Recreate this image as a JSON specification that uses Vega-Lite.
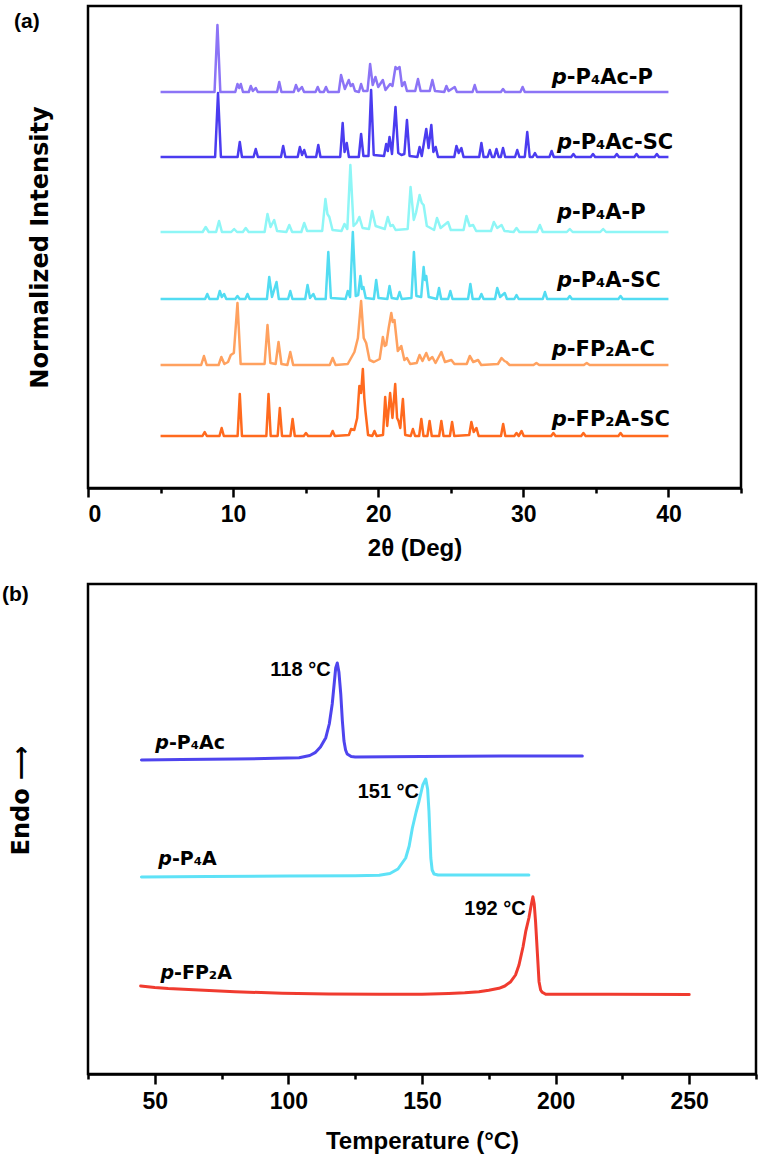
{
"$schema": "https://vega.github.io/schema/vega-lite/v6.json",
"background": "white",
"padding": {"left": 0, "top": 4, "right": 0, "bottom": 0},
"autosize": {"type": "pad"},
"bounds": "flush",
"spacing": 96,
"resolve": {"scale": {"x": "independent", "y": "independent", "color": "independent"}},
"config": {
  "view": {"stroke": "black", "strokeWidth": 2.5},
  "axis": {"grid": false, "domainColor": "black", "tickColor": "black", "labelColor": "black", "titleColor": "black"}
},
"vconcat": [
{
  "width": 653, "height": 482,
  "title": {"text": "(a)", "anchor": "start", "frame": "group", "orient": "top", "offset": 0, "dx": -74, "dy": 26, "baseline": "top", "fontSize": 21, "fontWeight": "bold", "font": "Liberation Sans", "color": "black"},
  "layer": [
    {
      "data": {"values": [
{"s":"A","x":5,"y":396},{"s":"A","x":8.72,"y":396},{"s":"A","x":8.92,"y":463},{"s":"A","x":9.12,"y":396},{"s":"A","x":10.15,"y":396},{"s":"A","x":10.3,"y":404},{"s":"A","x":10.42,"y":400},{"s":"A","x":10.53,"y":404},{"s":"A","x":10.68,"y":396},{"s":"A","x":11.08,"y":396},{"s":"A","x":11.22,"y":402},{"s":"A","x":11.36,"y":397},{"s":"A","x":11.56,"y":400},{"s":"A","x":11.7,"y":396},{"s":"A","x":13.03,"y":396},{"s":"A","x":13.18,"y":406},{"s":"A","x":13.33,"y":396},{"s":"A","x":14.18,"y":396},{"s":"A","x":14.33,"y":403},{"s":"A","x":14.5,"y":397},{"s":"A","x":14.74,"y":401},{"s":"A","x":14.89,"y":396},{"s":"A","x":15.68,"y":396},{"s":"A","x":15.83,"y":401},{"s":"A","x":15.98,"y":396},{"s":"A","x":16.25,"y":396},{"s":"A","x":16.4,"y":401},{"s":"A","x":16.55,"y":396},{"s":"A","x":17.28,"y":396},{"s":"A","x":17.44,"y":413},{"s":"A","x":17.7,"y":399},{"s":"A","x":17.97,"y":408},{"s":"A","x":18.1,"y":402},{"s":"A","x":18.25,"y":404},{"s":"A","x":18.4,"y":397},{"s":"A","x":18.67,"y":396},{"s":"A","x":18.82,"y":404},{"s":"A","x":18.97,"y":397},{"s":"A","x":19.26,"y":397},{"s":"A","x":19.44,"y":424},{"s":"A","x":19.62,"y":403},{"s":"A","x":19.81,"y":411},{"s":"A","x":20.0,"y":401},{"s":"A","x":20.32,"y":408},{"s":"A","x":20.5,"y":398},{"s":"A","x":20.82,"y":404},{"s":"A","x":20.98,"y":402},{"s":"A","x":21.19,"y":421},{"s":"A","x":21.3,"y":419},{"s":"A","x":21.47,"y":421},{"s":"A","x":21.64,"y":402},{"s":"A","x":21.82,"y":406},{"s":"A","x":21.98,"y":397},{"s":"A","x":22.55,"y":397},{"s":"A","x":22.74,"y":409},{"s":"A","x":22.92,"y":397},{"s":"A","x":23.55,"y":397},{"s":"A","x":23.73,"y":408},{"s":"A","x":23.91,"y":397},{"s":"A","x":24.55,"y":396},{"s":"A","x":24.7,"y":402},{"s":"A","x":24.85,"y":397},{"s":"A","x":25.27,"y":401},{"s":"A","x":25.42,"y":396},{"s":"A","x":26.5,"y":396},{"s":"A","x":26.65,"y":403},{"s":"A","x":26.8,"y":396},{"s":"A","x":28.45,"y":396},{"s":"A","x":28.6,"y":399},{"s":"A","x":28.75,"y":396},{"s":"A","x":29.8,"y":396},{"s":"A","x":29.95,"y":401},{"s":"A","x":30.1,"y":396},{"s":"A","x":40,"y":396},
{"s":"B","x":5,"y":331},{"s":"B","x":8.76,"y":331},{"s":"B","x":8.96,"y":395},{"s":"B","x":9.16,"y":331},{"s":"B","x":10.31,"y":331},{"s":"B","x":10.46,"y":346},{"s":"B","x":10.61,"y":331},{"s":"B","x":11.41,"y":331},{"s":"B","x":11.56,"y":339},{"s":"B","x":11.71,"y":331},{"s":"B","x":13.3,"y":331},{"s":"B","x":13.45,"y":342},{"s":"B","x":13.6,"y":331},{"s":"B","x":14.45,"y":331},{"s":"B","x":14.6,"y":341},{"s":"B","x":14.75,"y":333},{"s":"B","x":14.9,"y":338},{"s":"B","x":15.05,"y":331},{"s":"B","x":15.72,"y":331},{"s":"B","x":15.87,"y":343},{"s":"B","x":16.02,"y":331},{"s":"B","x":17.38,"y":331},{"s":"B","x":17.55,"y":365},{"s":"B","x":17.68,"y":336},{"s":"B","x":17.83,"y":345},{"s":"B","x":17.98,"y":331},{"s":"B","x":18.66,"y":331},{"s":"B","x":18.82,"y":354},{"s":"B","x":18.98,"y":332},{"s":"B","x":19.33,"y":332},{"s":"B","x":19.51,"y":398},{"s":"B","x":19.69,"y":333},{"s":"B","x":20.4,"y":332},{"s":"B","x":20.55,"y":344},{"s":"B","x":20.66,"y":337},{"s":"B","x":20.78,"y":351},{"s":"B","x":20.95,"y":334},{"s":"B","x":21.19,"y":381},{"s":"B","x":21.38,"y":335},{"s":"B","x":21.6,"y":333},{"s":"B","x":21.8,"y":334},{"s":"B","x":21.98,"y":368},{"s":"B","x":22.16,"y":332},{"s":"B","x":22.7,"y":331},{"s":"B","x":22.85,"y":341},{"s":"B","x":23.0,"y":332},{"s":"B","x":23.31,"y":359},{"s":"B","x":23.47,"y":340},{"s":"B","x":23.66,"y":363},{"s":"B","x":23.8,"y":336},{"s":"B","x":23.96,"y":341},{"s":"B","x":24.12,"y":331},{"s":"B","x":25.24,"y":331},{"s":"B","x":25.39,"y":342},{"s":"B","x":25.55,"y":335},{"s":"B","x":25.73,"y":340},{"s":"B","x":25.88,"y":331},{"s":"B","x":26.96,"y":331},{"s":"B","x":27.11,"y":345},{"s":"B","x":27.26,"y":331},{"s":"B","x":27.54,"y":331},{"s":"B","x":27.69,"y":338},{"s":"B","x":27.84,"y":331},{"s":"B","x":28.0,"y":331},{"s":"B","x":28.15,"y":339},{"s":"B","x":28.3,"y":331},{"s":"B","x":28.45,"y":331},{"s":"B","x":28.6,"y":340},{"s":"B","x":28.75,"y":331},{"s":"B","x":29.43,"y":331},{"s":"B","x":29.58,"y":338},{"s":"B","x":29.73,"y":331},{"s":"B","x":30.1,"y":331},{"s":"B","x":30.27,"y":356},{"s":"B","x":30.44,"y":331},{"s":"B","x":30.65,"y":331},{"s":"B","x":30.8,"y":335},{"s":"B","x":30.95,"y":331},{"s":"B","x":31.8,"y":331},{"s":"B","x":31.95,"y":337},{"s":"B","x":32.1,"y":331},{"s":"B","x":33.3,"y":331},{"s":"B","x":33.45,"y":334},{"s":"B","x":33.6,"y":331},{"s":"B","x":34.65,"y":331},{"s":"B","x":34.8,"y":334},{"s":"B","x":34.95,"y":331},{"s":"B","x":36.29,"y":331},{"s":"B","x":36.44,"y":334},{"s":"B","x":36.59,"y":331},{"s":"B","x":37.65,"y":331},{"s":"B","x":37.8,"y":334},{"s":"B","x":37.95,"y":331},{"s":"B","x":39.05,"y":331},{"s":"B","x":39.2,"y":334},{"s":"B","x":39.35,"y":331},{"s":"B","x":40,"y":331},
{"s":"C","x":5,"y":256},{"s":"C","x":7.9,"y":256},{"s":"C","x":8.11,"y":261},{"s":"C","x":8.32,"y":256},{"s":"C","x":8.83,"y":256},{"s":"C","x":9.03,"y":267},{"s":"C","x":9.23,"y":256},{"s":"C","x":9.87,"y":256},{"s":"C","x":10.07,"y":259},{"s":"C","x":10.27,"y":256},{"s":"C","x":10.67,"y":256},{"s":"C","x":10.87,"y":260},{"s":"C","x":11.07,"y":256},{"s":"C","x":12.17,"y":256},{"s":"C","x":12.37,"y":274},{"s":"C","x":12.58,"y":261},{"s":"C","x":12.83,"y":268},{"s":"C","x":13.03,"y":257},{"s":"C","x":13.67,"y":256},{"s":"C","x":13.87,"y":263},{"s":"C","x":14.07,"y":256},{"s":"C","x":14.7,"y":256},{"s":"C","x":14.9,"y":265},{"s":"C","x":15.1,"y":257},{"s":"C","x":16.14,"y":257},{"s":"C","x":16.36,"y":289},{"s":"C","x":16.5,"y":274},{"s":"C","x":16.63,"y":271},{"s":"C","x":16.85,"y":258},{"s":"C","x":17.47,"y":257},{"s":"C","x":17.67,"y":264},{"s":"C","x":17.87,"y":259},{"s":"C","x":18.08,"y":323},{"s":"C","x":18.3,"y":262},{"s":"C","x":18.5,"y":265},{"s":"C","x":18.7,"y":271},{"s":"C","x":18.92,"y":260},{"s":"C","x":19.36,"y":259},{"s":"C","x":19.58,"y":277},{"s":"C","x":19.82,"y":262},{"s":"C","x":20.45,"y":259},{"s":"C","x":20.66,"y":271},{"s":"C","x":20.84,"y":262},{"s":"C","x":21.01,"y":263},{"s":"C","x":21.2,"y":258},{"s":"C","x":22.03,"y":259},{"s":"C","x":22.23,"y":301},{"s":"C","x":22.45,"y":268},{"s":"C","x":22.6,"y":275},{"s":"C","x":22.85,"y":293},{"s":"C","x":23.0,"y":285},{"s":"C","x":23.13,"y":283},{"s":"C","x":23.35,"y":262},{"s":"C","x":23.85,"y":258},{"s":"C","x":24.05,"y":270},{"s":"C","x":24.3,"y":260},{"s":"C","x":24.81,"y":266},{"s":"C","x":25.0,"y":258},{"s":"C","x":25.88,"y":258},{"s":"C","x":26.08,"y":272},{"s":"C","x":26.3,"y":262},{"s":"C","x":26.54,"y":263},{"s":"C","x":26.75,"y":257},{"s":"C","x":27.77,"y":257},{"s":"C","x":27.97,"y":266},{"s":"C","x":28.2,"y":260},{"s":"C","x":28.5,"y":263},{"s":"C","x":28.7,"y":257},{"s":"C","x":29.33,"y":256},{"s":"C","x":29.53,"y":260},{"s":"C","x":29.73,"y":256},{"s":"C","x":30.94,"y":256},{"s":"C","x":31.14,"y":263},{"s":"C","x":31.34,"y":256},{"s":"C","x":33.0,"y":256},{"s":"C","x":33.2,"y":259},{"s":"C","x":33.4,"y":256},{"s":"C","x":35.3,"y":256},{"s":"C","x":35.5,"y":259},{"s":"C","x":35.7,"y":256},{"s":"C","x":40,"y":256},
{"s":"D","x":5,"y":189},{"s":"D","x":8.07,"y":189},{"s":"D","x":8.22,"y":194},{"s":"D","x":8.37,"y":189},{"s":"D","x":8.93,"y":189},{"s":"D","x":9.08,"y":197},{"s":"D","x":9.22,"y":191},{"s":"D","x":9.38,"y":194},{"s":"D","x":9.53,"y":189},{"s":"D","x":10.15,"y":189},{"s":"D","x":10.3,"y":192},{"s":"D","x":10.45,"y":189},{"s":"D","x":10.84,"y":189},{"s":"D","x":10.99,"y":194},{"s":"D","x":11.14,"y":189},{"s":"D","x":12.33,"y":189},{"s":"D","x":12.49,"y":211},{"s":"D","x":12.68,"y":191},{"s":"D","x":12.99,"y":206},{"s":"D","x":13.15,"y":189},{"s":"D","x":13.79,"y":189},{"s":"D","x":13.94,"y":197},{"s":"D","x":14.09,"y":189},{"s":"D","x":14.97,"y":189},{"s":"D","x":15.13,"y":203},{"s":"D","x":15.3,"y":190},{"s":"D","x":15.53,"y":194},{"s":"D","x":15.68,"y":189},{"s":"D","x":16.38,"y":189},{"s":"D","x":16.56,"y":236},{"s":"D","x":16.74,"y":190},{"s":"D","x":17.75,"y":189},{"s":"D","x":17.9,"y":197},{"s":"D","x":18.06,"y":191},{"s":"D","x":18.25,"y":256},{"s":"D","x":18.45,"y":192},{"s":"D","x":18.62,"y":193},{"s":"D","x":18.77,"y":212},{"s":"D","x":18.88,"y":199},{"s":"D","x":18.98,"y":201},{"s":"D","x":19.14,"y":190},{"s":"D","x":19.7,"y":189},{"s":"D","x":19.86,"y":208},{"s":"D","x":20.02,"y":190},{"s":"D","x":20.63,"y":189},{"s":"D","x":20.78,"y":202},{"s":"D","x":20.93,"y":190},{"s":"D","x":21.32,"y":189},{"s":"D","x":21.47,"y":196},{"s":"D","x":21.62,"y":189},{"s":"D","x":22.29,"y":190},{"s":"D","x":22.46,"y":236},{"s":"D","x":22.63,"y":192},{"s":"D","x":22.96,"y":191},{"s":"D","x":23.13,"y":221},{"s":"D","x":23.22,"y":208},{"s":"D","x":23.31,"y":212},{"s":"D","x":23.48,"y":191},{"s":"D","x":24.04,"y":189},{"s":"D","x":24.19,"y":200},{"s":"D","x":24.34,"y":189},{"s":"D","x":24.82,"y":189},{"s":"D","x":24.97,"y":197},{"s":"D","x":25.12,"y":189},{"s":"D","x":26.19,"y":189},{"s":"D","x":26.35,"y":204},{"s":"D","x":26.51,"y":189},{"s":"D","x":26.96,"y":189},{"s":"D","x":27.11,"y":194},{"s":"D","x":27.26,"y":189},{"s":"D","x":28.05,"y":189},{"s":"D","x":28.2,"y":200},{"s":"D","x":28.4,"y":191},{"s":"D","x":28.72,"y":195},{"s":"D","x":28.87,"y":189},{"s":"D","x":29.38,"y":189},{"s":"D","x":29.53,"y":193},{"s":"D","x":29.68,"y":189},{"s":"D","x":31.34,"y":189},{"s":"D","x":31.49,"y":196},{"s":"D","x":31.64,"y":189},{"s":"D","x":33.05,"y":189},{"s":"D","x":33.2,"y":192},{"s":"D","x":33.35,"y":189},{"s":"D","x":36.55,"y":189},{"s":"D","x":36.7,"y":192},{"s":"D","x":36.85,"y":189},{"s":"D","x":40,"y":189},
{"s":"E","x":5,"y":123},{"s":"E","x":7.8,"y":123},{"s":"E","x":7.99,"y":132},{"s":"E","x":8.18,"y":123},{"s":"E","x":9.0,"y":123},{"s":"E","x":9.19,"y":131},{"s":"E","x":9.4,"y":124},{"s":"E","x":9.65,"y":126},{"s":"E","x":9.84,"y":133},{"s":"E","x":10.05,"y":135},{"s":"E","x":10.3,"y":185},{"s":"E","x":10.52,"y":124},{"s":"E","x":12.17,"y":124},{"s":"E","x":12.37,"y":163},{"s":"E","x":12.57,"y":125},{"s":"E","x":12.93,"y":124},{"s":"E","x":13.13,"y":146},{"s":"E","x":13.33,"y":124},{"s":"E","x":13.74,"y":123},{"s":"E","x":13.94,"y":136},{"s":"E","x":14.14,"y":123},{"s":"E","x":16.66,"y":123},{"s":"E","x":16.86,"y":130},{"s":"E","x":17.06,"y":123},{"s":"E","x":17.9,"y":124},{"s":"E","x":18.36,"y":136},{"s":"E","x":18.6,"y":150},{"s":"E","x":18.82,"y":187},{"s":"E","x":19.0,"y":150},{"s":"E","x":19.17,"y":145},{"s":"E","x":19.4,"y":128},{"s":"E","x":19.7,"y":126},{"s":"E","x":20.1,"y":129},{"s":"E","x":20.32,"y":151},{"s":"E","x":20.45,"y":142},{"s":"E","x":20.55,"y":143},{"s":"E","x":20.72,"y":160},{"s":"E","x":20.9,"y":175},{"s":"E","x":21.0,"y":166},{"s":"E","x":21.12,"y":168},{"s":"E","x":21.35,"y":137},{"s":"E","x":21.59,"y":142},{"s":"E","x":21.8,"y":128},{"s":"E","x":21.98,"y":130},{"s":"E","x":22.2,"y":124},{"s":"E","x":22.65,"y":125},{"s":"E","x":22.85,"y":133},{"s":"E","x":23.05,"y":127},{"s":"E","x":23.31,"y":135},{"s":"E","x":23.5,"y":128},{"s":"E","x":23.73,"y":131},{"s":"E","x":23.95,"y":125},{"s":"E","x":24.35,"y":136},{"s":"E","x":24.6,"y":126},{"s":"E","x":25.04,"y":128},{"s":"E","x":25.25,"y":124},{"s":"E","x":26.1,"y":124},{"s":"E","x":26.31,"y":132},{"s":"E","x":26.55,"y":126},{"s":"E","x":26.88,"y":128},{"s":"E","x":27.1,"y":123},{"s":"E","x":28.25,"y":124},{"s":"E","x":28.5,"y":130},{"s":"E","x":28.7,"y":127},{"s":"E","x":28.84,"y":126},{"s":"E","x":29.05,"y":123},{"s":"E","x":30.7,"y":123},{"s":"E","x":30.9,"y":125},{"s":"E","x":31.1,"y":123},{"s":"E","x":34.17,"y":123},{"s":"E","x":34.37,"y":125},{"s":"E","x":34.57,"y":123},{"s":"E","x":40,"y":123},
{"s":"F","x":5,"y":52},{"s":"F","x":7.89,"y":52},{"s":"F","x":8.04,"y":56},{"s":"F","x":8.19,"y":52},{"s":"F","x":9.06,"y":52},{"s":"F","x":9.21,"y":60},{"s":"F","x":9.36,"y":52},{"s":"F","x":10.31,"y":52},{"s":"F","x":10.46,"y":94},{"s":"F","x":10.61,"y":52},{"s":"F","x":12.29,"y":52},{"s":"F","x":12.44,"y":94},{"s":"F","x":12.59,"y":52},{"s":"F","x":13.07,"y":52},{"s":"F","x":13.22,"y":80},{"s":"F","x":13.37,"y":52},{"s":"F","x":13.95,"y":52},{"s":"F","x":14.1,"y":69},{"s":"F","x":14.25,"y":52},{"s":"F","x":14.87,"y":52},{"s":"F","x":15.02,"y":55},{"s":"F","x":15.17,"y":52},{"s":"F","x":16.71,"y":52},{"s":"F","x":16.86,"y":57},{"s":"F","x":17.01,"y":52},{"s":"F","x":17.98,"y":53},{"s":"F","x":18.13,"y":59},{"s":"F","x":18.35,"y":58},{"s":"F","x":18.55,"y":70},{"s":"F","x":18.7,"y":102},{"s":"F","x":18.82,"y":95},{"s":"F","x":18.94,"y":119},{"s":"F","x":19.04,"y":90},{"s":"F","x":19.12,"y":77},{"s":"F","x":19.3,"y":53},{"s":"F","x":19.59,"y":52},{"s":"F","x":19.74,"y":57},{"s":"F","x":19.89,"y":52},{"s":"F","x":20.33,"y":53},{"s":"F","x":20.48,"y":91},{"s":"F","x":20.62,"y":62},{"s":"F","x":20.82,"y":95},{"s":"F","x":20.98,"y":70},{"s":"F","x":21.17,"y":104},{"s":"F","x":21.3,"y":70},{"s":"F","x":21.4,"y":67},{"s":"F","x":21.52,"y":60},{"s":"F","x":21.7,"y":89},{"s":"F","x":21.86,"y":53},{"s":"F","x":22.24,"y":52},{"s":"F","x":22.39,"y":59},{"s":"F","x":22.54,"y":52},{"s":"F","x":22.82,"y":52},{"s":"F","x":22.97,"y":69},{"s":"F","x":23.12,"y":52},{"s":"F","x":23.39,"y":52},{"s":"F","x":23.54,"y":67},{"s":"F","x":23.69,"y":52},{"s":"F","x":24.2,"y":52},{"s":"F","x":24.35,"y":67},{"s":"F","x":24.5,"y":52},{"s":"F","x":24.94,"y":52},{"s":"F","x":25.09,"y":66},{"s":"F","x":25.24,"y":52},{"s":"F","x":26.27,"y":53},{"s":"F","x":26.42,"y":66},{"s":"F","x":26.58,"y":56},{"s":"F","x":26.77,"y":60},{"s":"F","x":26.92,"y":52},{"s":"F","x":28.46,"y":52},{"s":"F","x":28.61,"y":64},{"s":"F","x":28.76,"y":52},{"s":"F","x":29.38,"y":52},{"s":"F","x":29.53,"y":55},{"s":"F","x":29.68,"y":52},{"s":"F","x":29.88,"y":57},{"s":"F","x":30.03,"y":52},{"s":"F","x":31.92,"y":52},{"s":"F","x":32.07,"y":55},{"s":"F","x":32.22,"y":52},{"s":"F","x":33.99,"y":52},{"s":"F","x":34.14,"y":55},{"s":"F","x":34.29,"y":52},{"s":"F","x":36.55,"y":52},{"s":"F","x":36.7,"y":55},{"s":"F","x":36.85,"y":52},{"s":"F","x":40,"y":52}
      ]},
      "mark": {"type": "line", "strokeWidth": 2.5, "strokeJoin": "round"},
      "encoding": {
        "x": {"field": "x", "type": "quantitative", "scale": {"domain": [0, 45], "nice": false, "zero": false},
          "axis": {"values": [0,5,10,15,20,25,30,35,40,45], "labelExpr": "datum.value % 10 === 0 ? datum.label : ''",
            "tickSize": {"condition": {"test": "datum.value % 10 === 0", "value": 9}, "value": 5},
            "tickWidth": 2.5, "domainWidth": 2.5, "labelFont": "Liberation Sans", "labelFontSize": 23, "labelFontWeight": "bold", "labelPadding": 6,
            "title": "2θ (Deg)", "titleFont": "Liberation Sans", "titleFontSize": 24, "titleFontWeight": "bold", "titlePadding": 10}},
        "y": {"field": "y", "type": "quantitative", "scale": {"domain": [0, 482], "nice": false, "zero": false},
          "axis": {"ticks": false, "labels": false, "domain": false, "title": "Normalized Intensity", "titleFont": "DejaVu Sans", "titleFontSize": 24, "titleFontWeight": "bold", "titlePadding": 36}},
        "color": {"field": "s", "type": "nominal", "legend": null,
          "scale": {"domain": ["A","B","C","D","E","F"], "range": ["#8c74f6","#4b3cf0","#8ef6f6","#52dcf2","#ffa15f","#ff6a1e"]}}
      }
    },
    {
      "data": {"values": [
        {"x": 33.0, "y": 404, "p": "p", "t": "-P₄Ac-P"},
        {"x": 33.35, "y": 339, "p": "p", "t": "-P₄Ac-SC"},
        {"x": 33.35, "y": 269, "p": "p", "t": "-P₄A-P"},
        {"x": 33.35, "y": 201, "p": "p", "t": "-P₄A-SC"},
        {"x": 33.0, "y": 132, "p": "p", "t": "-FP₂A-C"},
        {"x": 33.0, "y": 62, "p": "p", "t": "-FP₂A-SC"}
      ]},
      "layer": [
        {"mark": {"type": "text", "align": "right", "baseline": "alphabetic", "font": "DejaVu Sans", "fontSize": 21, "fontWeight": "bold", "fontStyle": "italic", "color": "black"},
         "encoding": {"x": {"field": "x", "type": "quantitative"}, "y": {"field": "y", "type": "quantitative"}, "text": {"field": "p"}}},
        {"mark": {"type": "text", "align": "left", "baseline": "alphabetic", "font": "DejaVu Sans", "fontSize": 21, "fontWeight": "bold", "color": "black"},
         "encoding": {"x": {"field": "x", "type": "quantitative"}, "y": {"field": "y", "type": "quantitative"}, "text": {"field": "t"}}}
      ]
    }
  ]
},
{
  "width": 668, "height": 490,
  "title": {"text": "(b)", "anchor": "start", "frame": "group", "orient": "top", "offset": 0, "dx": -86, "dy": 21, "baseline": "top", "fontSize": 21, "fontWeight": "bold", "font": "Liberation Sans", "color": "black"},
  "layer": [
    {
      "data": {"values": [
{"s":"P","x":45,"y":314},{"s":"P","x":60,"y":314.5},{"s":"P","x":80,"y":315},{"s":"P","x":95,"y":315.7},{"s":"P","x":104,"y":316.3},{"s":"P","x":108,"y":318.5},{"s":"P","x":110,"y":321.3},{"s":"P","x":112,"y":327},{"s":"P","x":114,"y":336.3},{"s":"P","x":115.3,"y":350},{"s":"P","x":116.4,"y":370},{"s":"P","x":117.2,"y":392},{"s":"P","x":117.7,"y":406},{"s":"P","x":118.3,"y":411},{"s":"P","x":118.9,"y":402},{"s":"P","x":119.6,"y":380},{"s":"P","x":120.2,"y":353},{"s":"P","x":120.8,"y":333},{"s":"P","x":121.4,"y":324},{"s":"P","x":122,"y":320},{"s":"P","x":123.5,"y":317.5},{"s":"P","x":125,"y":317},{"s":"P","x":150,"y":317.5},{"s":"P","x":180,"y":318},{"s":"P","x":210,"y":318},
{"s":"Q","x":45,"y":197},{"s":"Q","x":70,"y":197.5},{"s":"Q","x":100,"y":198},{"s":"Q","x":125,"y":198.3},{"s":"Q","x":134,"y":198.8},{"s":"Q","x":138,"y":200.5},{"s":"Q","x":141,"y":205},{"s":"Q","x":143.9,"y":216},{"s":"Q","x":145.2,"y":228},{"s":"Q","x":146.4,"y":246},{"s":"Q","x":147.8,"y":262},{"s":"Q","x":148.9,"y":273},{"s":"Q","x":150.3,"y":289},{"s":"Q","x":151.4,"y":295},{"s":"Q","x":152.1,"y":285},{"s":"Q","x":152.6,"y":263},{"s":"Q","x":153.3,"y":216},{"s":"Q","x":153.8,"y":204},{"s":"Q","x":154.5,"y":200},{"s":"Q","x":156,"y":199},{"s":"Q","x":170,"y":199},{"s":"Q","x":190,"y":199},
{"s":"R","x":44.7,"y":88},{"s":"R","x":50,"y":86.5},{"s":"R","x":55,"y":85.5},{"s":"R","x":66.5,"y":84},{"s":"R","x":80,"y":82.3},{"s":"R","x":97.7,"y":80.7},{"s":"R","x":115,"y":80},{"s":"R","x":134,"y":79.7},{"s":"R","x":150,"y":79.8},{"s":"R","x":160,"y":80.5},{"s":"R","x":166,"y":81.2},{"s":"R","x":171.3,"y":82.3},{"s":"R","x":175,"y":83.8},{"s":"R","x":178.8,"y":85.7},{"s":"R","x":181,"y":88},{"s":"R","x":183.2,"y":92.3},{"s":"R","x":185,"y":99},{"s":"R","x":186.3,"y":109},{"s":"R","x":187.8,"y":127},{"s":"R","x":188.8,"y":142.3},{"s":"R","x":190,"y":156},{"s":"R","x":190.8,"y":168},{"s":"R","x":191.5,"y":177.3},{"s":"R","x":192,"y":170},{"s":"R","x":192.5,"y":152.3},{"s":"R","x":193.2,"y":120},{"s":"R","x":193.8,"y":92.3},{"s":"R","x":194.4,"y":84},{"s":"R","x":195,"y":81.7},{"s":"R","x":196.3,"y":79.7},{"s":"R","x":220,"y":79.7},{"s":"R","x":250,"y":79.5}
      ]},
      "mark": {"type": "line", "strokeWidth": 3, "strokeJoin": "round", "strokeCap": "round"},
      "encoding": {
        "x": {"field": "x", "type": "quantitative", "scale": {"domain": [25, 275], "nice": false, "zero": false},
          "axis": {"values": [25,50,75,100,125,150,175,200,225,250,275], "labelExpr": "datum.value % 50 === 0 ? datum.label : ''",
            "tickSize": {"condition": {"test": "datum.value % 50 === 0", "value": 10}, "value": 5},
            "tickWidth": 2.5, "domainWidth": 2.5, "labelFont": "Liberation Sans", "labelFontSize": 23, "labelFontWeight": "bold", "labelPadding": 6,
            "title": "Temperature (°C)", "titleFont": "Liberation Sans", "titleFontSize": 24, "titleFontWeight": "bold", "titlePadding": 16}},
        "y": {"field": "y", "type": "quantitative", "scale": {"domain": [0, 490], "nice": false, "zero": false},
          "axis": {"ticks": false, "labels": false, "domain": false, "title": "Endo ⟶", "titleFont": "DejaVu Sans", "titleFontSize": 24, "titleFontWeight": "bold", "titleX": -55, "titleY": 216, "titleAngle": 270, "titleAlign": "center", "titleBaseline": "bottom"}},
        "color": {"field": "s", "type": "nominal", "legend": null,
          "scale": {"domain": ["P","Q","R"], "range": ["#4e44ee","#5ee2f7","#f03b2f"]}}
      }
    },
    {
      "data": {"values": [
        {"x": 55.3, "y": 325, "p": "p", "t": "-P₄Ac"},
        {"x": 56.4, "y": 209, "p": "p", "t": "-P₄A"},
        {"x": 57.2, "y": 95, "p": "p", "t": "-FP₂A"}
      ]},
      "layer": [
        {"mark": {"type": "text", "align": "right", "baseline": "alphabetic", "font": "DejaVu Sans", "fontSize": 19, "fontWeight": "bold", "fontStyle": "italic", "color": "black"},
         "encoding": {"x": {"field": "x", "type": "quantitative"}, "y": {"field": "y", "type": "quantitative"}, "text": {"field": "p"}}},
        {"mark": {"type": "text", "align": "left", "baseline": "alphabetic", "font": "DejaVu Sans", "fontSize": 19, "fontWeight": "bold", "color": "black"},
         "encoding": {"x": {"field": "x", "type": "quantitative"}, "y": {"field": "y", "type": "quantitative"}, "text": {"field": "t"}}}
      ]
    },
    {
      "data": {"values": [
        {"x": 115.8, "y": 398, "t": "118 °C"},
        {"x": 148.9, "y": 276, "t": "151 °C"},
        {"x": 188.8, "y": 159, "t": "192 °C"}
      ]},
      "mark": {"type": "text", "align": "right", "baseline": "alphabetic", "font": "Liberation Sans", "fontSize": 20, "fontWeight": "bold", "color": "black"},
      "encoding": {"x": {"field": "x", "type": "quantitative"}, "y": {"field": "y", "type": "quantitative"}, "text": {"field": "t"}}
    }
  ]
}
]
}
